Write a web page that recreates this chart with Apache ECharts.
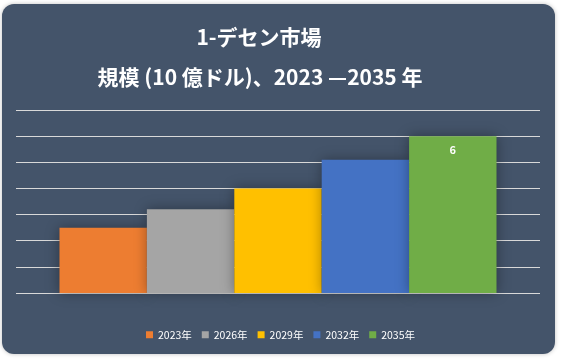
<!DOCTYPE html>
<html>
<head>
<meta charset="utf-8">
<script src="https://cdn.jsdelivr.net/npm/echarts@6/dist/echarts.min.js"></script>
<style>
html,body{margin:0;padding:0;background:#ffffff;}
#chart{width:561px;height:360px;}
</style>
</head>
<body>
<div id="chart"></div>
<script>
const categories = ['市場規模'];
const seriesNames = ['2023年', '2026年', '2029年', '2032年', '2035年'];
const seriesValues = [2.5, 3.2, 4.0, 5.1, 6.0];
const seriesColors = ['#ED7D31', '#A5A5A5', '#FFC000', '#4472C4', '#70AD47'];
const titleLine1 = '1-デセン市場';
const titleLine2 = '規模 (10 億ドル)、2023 —2035 年';

const chart = echarts.init(document.getElementById('chart'), null, {renderer: 'canvas'});
const fontFam = '"Noto Sans CJK JP", "Noto Sans", sans-serif';

const series = seriesNames.map((name, i) => ({
  name: name,
  type: 'bar',
  data: [seriesValues[i]],
  barGap: '0%',
  barCategoryGap: '16.6%',
  itemStyle: {
    color: seriesColors[i],
    shadowColor: 'rgba(0,0,0,0.35)',
    shadowBlur: 12
  },
  label: {
    show: i === seriesNames.length - 1,
    position: 'insideTop',
    distance: 8,
    color: '#ffffff',
    fontWeight: 'bold',
    fontSize: 11,
    fontFamily: fontFam,
    formatter: p => Math.round(p.value)
  }
}));

chart.setOption({
  backgroundColor: 'transparent',
  animation: false,
  graphic: [{
    type: 'rect',
    z: -10,
    shape: {x: 2, y: 4, width: 553, height: 350, r: 12},
    style: {fill: '#44546A', shadowColor: 'rgba(0,0,0,0.25)', shadowBlur: 4}
  }],
  title: [{
    text: titleLine1,
    left: 254,
    textAlign: 'center',
    top: 22,
    textStyle: {color: '#ffffff', fontSize: 21, fontWeight: 'bold', fontFamily: fontFam}
  }, {
    text: titleLine2,
    left: 255,
    textAlign: 'center',
    top: 62,
    textStyle: {color: '#ffffff', fontSize: 21, fontWeight: 'bold', fontFamily: fontFam}
  }],
  legend: {
    data: seriesNames,
    bottom: 15,
    left: 'center',
    icon: 'rect',
    itemWidth: 7,
    itemHeight: 7,
    itemGap: 10,
    textStyle: {color: '#ffffff', fontSize: 10.5, fontFamily: fontFam}
  },
  grid: {left: 16, right: 21, top: 110, bottom: 67, containLabel: false},
  xAxis: {
    type: 'category',
    data: categories,
    axisLine: {show: false},
    axisTick: {show: false},
    axisLabel: {show: false}
  },
  yAxis: {
    type: 'value',
    min: 0,
    max: 7,
    interval: 1,
    axisLine: {show: false},
    axisTick: {show: false},
    axisLabel: {show: false},
    splitLine: {lineStyle: {color: '#D9D9D9', width: 1.2}}
  },
  series: series
});
</script>
</body>
</html>
